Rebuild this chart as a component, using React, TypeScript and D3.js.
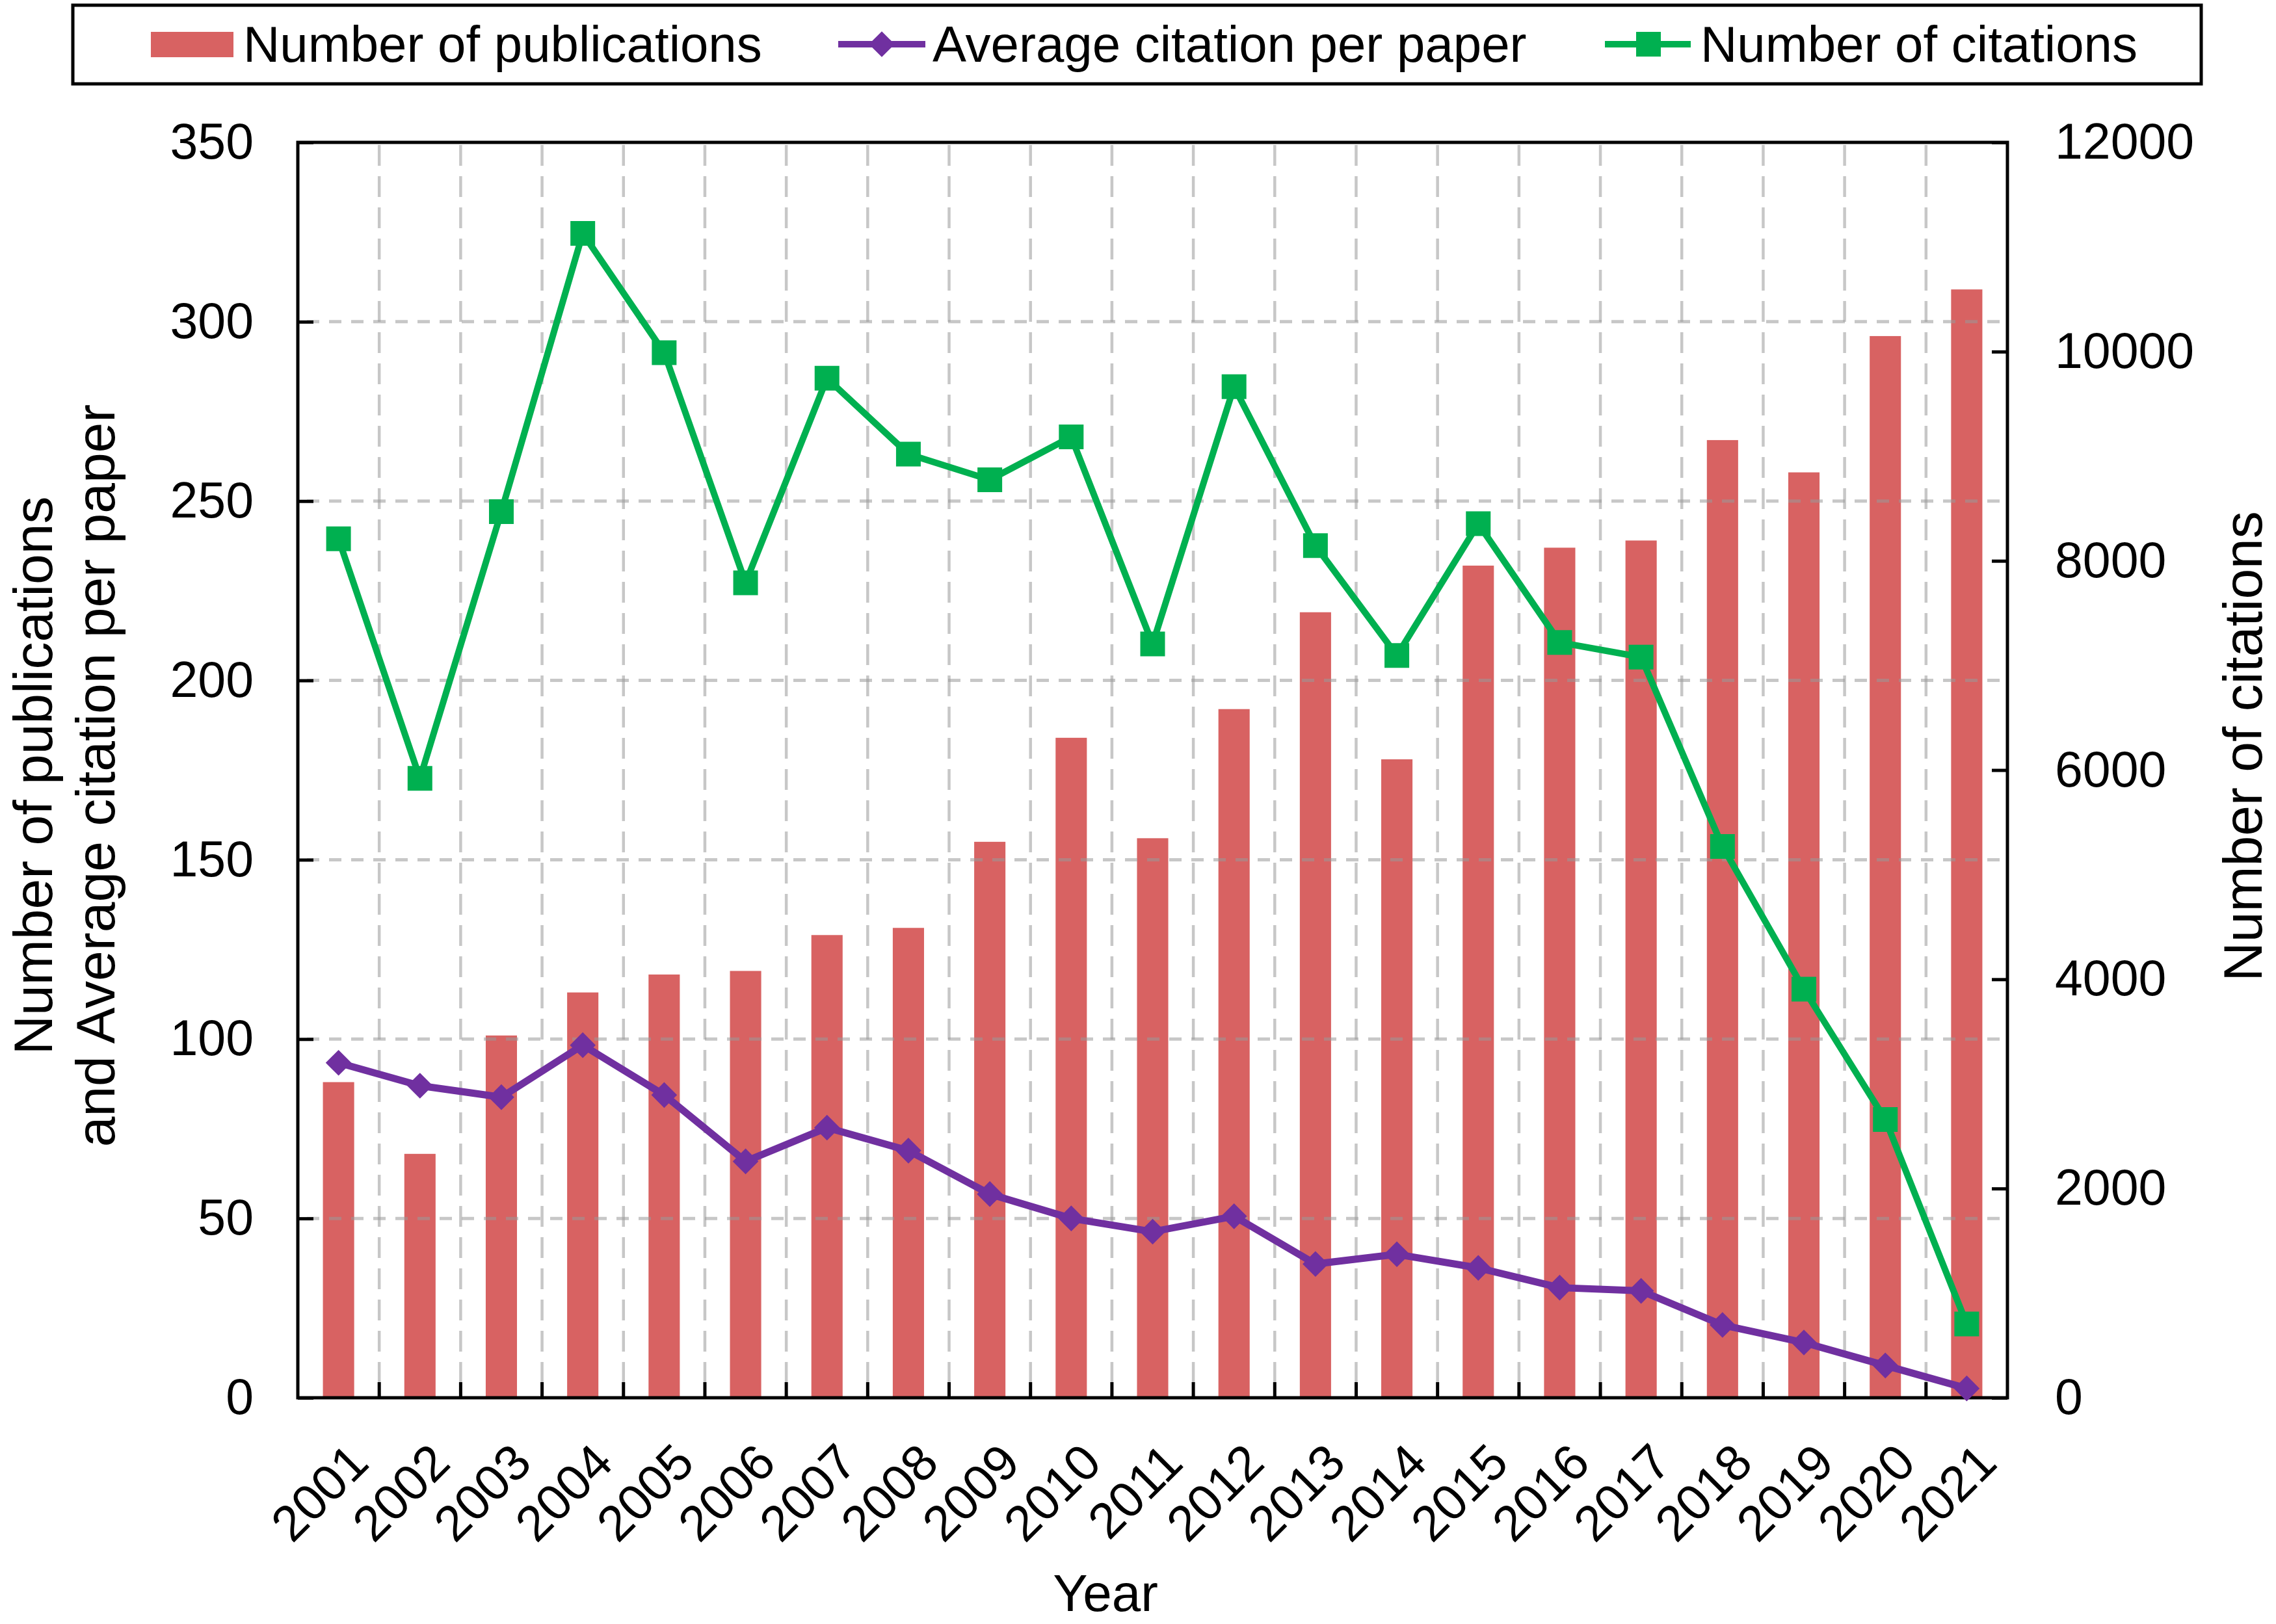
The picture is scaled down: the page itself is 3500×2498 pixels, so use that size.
import * as d3 from "d3";
import { useEffect, useRef } from "react";

// values
const years = [
  "2001", "2002", "2003", "2004", "2005", "2006", "2007", "2008", "2009", "2010", "2011",
  "2012", "2013", "2014", "2015", "2016", "2017", "2018", "2019", "2020", "2021",
];
const publications = [88, 68, 101, 113, 118, 119, 129, 131, 155, 184, 156, 192, 219, 178, 232, 237, 239, 267, 258, 296, 309];
const avgCitation = [93.4, 87, 83.8, 98.3, 84.4, 65.9, 75.3, 68.9, 56.8, 50, 46.3, 50.6, 37.3, 40, 36.2, 30.7, 29.8, 20.3, 15.4, 9, 2.6];
const citations = [8210, 5920, 8470, 11130, 9990, 7790, 9745, 9020, 8775, 9185, 7205, 9665, 8145, 7095, 8355, 7220, 7080, 5270, 3905, 2660, 705];

const leftTicks = [0, 50, 100, 150, 200, 250, 300, 350];
const rightTicks = [0, 2000, 4000, 6000, 8000, 10000, 12000];

const FONT = "'Liberation Sans', Arial, Helvetica, sans-serif";
const BAR = "#d86262";
const PURPLE = "#7030a0";
const GREEN = "#00b050";

export default function App() {
  const ref = useRef<SVGSVGElement | null>(null);

  useEffect(() => {
    if (!ref.current) return;
    const width = 3500;
    const height = 2498;
    const left = 458, right = 3087, top = 219, bottom = 2150;

    const svg = d3.select(ref.current);
    svg.selectAll("*").remove();
    svg.attr("width", width).attr("height", height);
    svg.append("rect").attr("width", width).attr("height", height).attr("fill", "#fff");

    const x = d3.scaleBand().domain(years).range([left, right]).padding(0);
    const yL = d3.scaleLinear().domain([0, 350]).range([bottom, top]);
    const yR = d3.scaleLinear().domain([0, 12000]).range([bottom, top]);
    const cx = (d: string) => x(d)! + x.bandwidth() / 2;
    const barW = x.bandwidth() * 0.384;

    // bars
    svg
      .append("g")
      .selectAll("rect")
      .data(years)
      .join("rect")
      .attr("x", (d) => cx(d) - barW / 2)
      .attr("y", (_, i) => yL(publications[i]))
      .attr("width", barW)
      .attr("height", (_, i) => yL(0) - yL(publications[i]))
      .attr("fill", BAR);

    // grid (drawn over bars, semi transparent)
    const grid = svg.append("g").attr("stroke", "#999").attr("stroke-opacity", 0.55);
    grid
      .selectAll("line.h")
      .data(leftTicks.filter((t) => t > 0 && t < 350))
      .join("line")
      .attr("class", "h")
      .attr("x1", left + 14)
      .attr("x2", right)
      .attr("y1", (d) => yL(d))
      .attr("y2", (d) => yL(d))
      .attr("stroke-width", 5)
      .attr("stroke-dasharray", "19 15");
    grid
      .selectAll("line.v")
      .data(years.slice(1))
      .join("line")
      .attr("class", "v")
      .attr("x1", (d) => x(d)!)
      .attr("x2", (d) => x(d)!)
      .attr("y1", top + 4)
      .attr("y2", bottom)
      .attr("stroke-width", 4.5)
      .attr("stroke-dasharray", "32 16");

    // bottom ticks at category boundaries (inward)
    svg
      .append("g")
      .selectAll("line")
      .data(years.slice(1))
      .join("line")
      .attr("x1", (d) => x(d)!)
      .attr("x2", (d) => x(d)!)
      .attr("y1", bottom)
      .attr("y2", bottom - 24)
      .attr("stroke", "#000")
      .attr("stroke-width", 5);

    // left axis
    const gL = svg
      .append("g")
      .attr("transform", `translate(${left},0)`)
      .call(d3.axisLeft(yL).tickValues(leftTicks).tickSize(-24).tickPadding(68).tickFormat(d3.format("d")));
    gL.select(".domain").remove();
    gL.selectAll(".tick line").attr("stroke-width", 5);
    gL.selectAll("text").attr("font-size", 77).attr("font-family", FONT).attr("fill", "#000");

    // right axis
    const gR = svg
      .append("g")
      .attr("transform", `translate(${right},0)`)
      .call(d3.axisRight(yR).tickValues(rightTicks).tickSize(-24).tickPadding(73).tickFormat(d3.format("d")));
    gR.select(".domain").remove();
    gR.selectAll(".tick line").attr("stroke-width", 5);
    gR.selectAll("text").attr("font-size", 77).attr("font-family", FONT).attr("fill", "#000");

    // frame
    svg
      .append("rect")
      .attr("x", left)
      .attr("y", top)
      .attr("width", right - left)
      .attr("height", bottom - top)
      .attr("fill", "none")
      .attr("stroke", "#000")
      .attr("stroke-width", 5);

    // x labels
    svg
      .append("g")
      .selectAll("text")
      .data(years)
      .join("text")
      .attr("transform", (d) => `translate(${cx(d) + 50},${bottom + 104}) rotate(-45)`)
      .attr("text-anchor", "end")
      .attr("font-size", 77)
      .attr("font-family", FONT)
      .text((d) => d);

    // average citation line
    const lineL = d3
      .line<number>()
      .x((_, i) => cx(years[i]))
      .y((d) => yL(d));
    svg
      .append("path")
      .datum(avgCitation)
      .attr("d", lineL)
      .attr("fill", "none")
      .attr("stroke", PURPLE)
      .attr("stroke-width", 11)
      .attr("stroke-linejoin", "round");
    const diamond = d3.symbol().type(d3.symbolSquare).size(28 * 28);
    svg
      .append("g")
      .selectAll("path")
      .data(avgCitation)
      .join("path")
      .attr("d", diamond)
      .attr("transform", (d, i) => `translate(${cx(years[i])},${yL(d)}) rotate(45)`)
      .attr("fill", PURPLE);

    // citations line
    const lineR = d3
      .line<number>()
      .x((_, i) => cx(years[i]))
      .y((d) => yR(d));
    svg
      .append("path")
      .datum(citations)
      .attr("d", lineR)
      .attr("fill", "none")
      .attr("stroke", GREEN)
      .attr("stroke-width", 10)
      .attr("stroke-linejoin", "round");
    const square = d3.symbol().type(d3.symbolSquare).size(38 * 38);
    svg
      .append("g")
      .selectAll("path")
      .data(citations)
      .join("path")
      .attr("d", square)
      .attr("transform", (d, i) => `translate(${cx(years[i])},${yR(d)})`)
      .attr("fill", GREEN);

    // axis titles
    const titleL = svg
      .append("text")
      .attr("transform", `translate(80,1193) rotate(-90)`)
      .attr("text-anchor", "middle")
      .attr("font-size", 84)
      .attr("font-family", FONT);
    titleL.append("tspan").attr("x", 0).attr("y", 0).text("Number of publications");
    titleL.append("tspan").attr("x", 0).attr("y", 96).text("and Average citation per paper");

    svg
      .append("text")
      .attr("transform", `translate(3478,1148) rotate(-90)`)
      .attr("text-anchor", "middle")
      .attr("font-size", 84)
      .attr("font-family", FONT)
      .text("Number of citations");

    svg
      .append("text")
      .attr("x", 1700)
      .attr("y", 2478)
      .attr("text-anchor", "middle")
      .attr("font-size", 80)
      .attr("font-family", FONT)
      .text("Year");

    // legend
    const lg = svg.append("g");
    lg.append("rect")
      .attr("x", 112)
      .attr("y", 8)
      .attr("width", 3273)
      .attr("height", 121)
      .attr("fill", "#fff")
      .attr("stroke", "#000")
      .attr("stroke-width", 5);
    lg.append("rect").attr("x", 232).attr("y", 49).attr("width", 127).attr("height", 39).attr("fill", BAR);
    lg.append("text").attr("x", 374).attr("y", 95).attr("font-size", 78).attr("font-family", FONT).text("Number of publications");

    lg.append("line").attr("x1", 1289).attr("x2", 1423).attr("y1", 68).attr("y2", 68).attr("stroke", PURPLE).attr("stroke-width", 10);
    lg.append("path").attr("d", diamond).attr("transform", "translate(1356,68) rotate(45)").attr("fill", PURPLE);
    lg.append("text").attr("x", 1434).attr("y", 95).attr("font-size", 78).attr("font-family", FONT).text("Average citation per paper");

    lg.append("line").attr("x1", 2468).attr("x2", 2600).attr("y1", 68).attr("y2", 68).attr("stroke", GREEN).attr("stroke-width", 10);
    lg.append("path").attr("d", square).attr("transform", "translate(2535,68)").attr("fill", GREEN);
    lg.append("text").attr("x", 2615).attr("y", 95).attr("font-size", 78).attr("font-family", FONT).text("Number of citations");
  }, []);

  return (
    <div style={{ position: "absolute", left: 0, top: 0 }}>
      <svg ref={ref} style={{ display: "block" }}></svg>
    </div>
  );
}
